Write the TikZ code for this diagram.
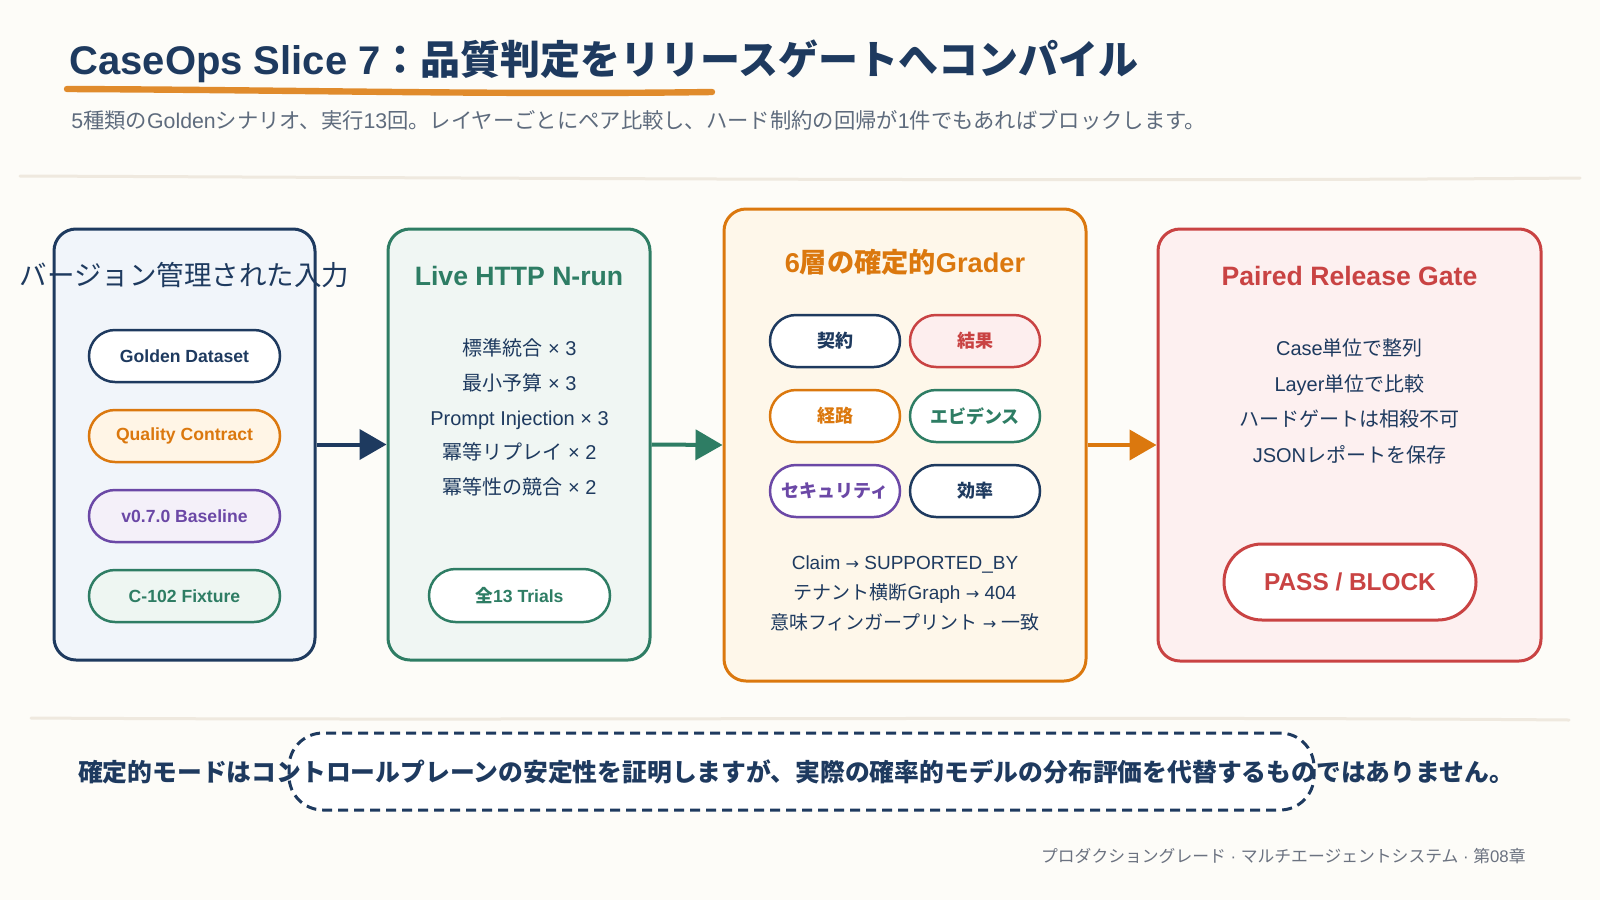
\documentclass[tikz,border=0pt]{standalone}
\usepackage{fontspec}
\setmainfont{Liberation Sans}
\newfontfamily\jpfont{Noto Sans CJK JP}
\newfontfamily\symfont{DejaVu Sans}
\usetikzlibrary{arrows.meta,shapes.misc}
\newcommand\jp[1]{{\jpfont #1}}
\newcommand\rarr{{\symfont\fontsize{0.85em}{1em}\selectfont →}}
\definecolor{bg}{HTML}{FDFCF8}
\definecolor{navy}{HTML}{1E3A5F}
\definecolor{orangeC}{HTML}{DB780E}
\definecolor{ulineC}{HTML}{E08B2C}
\definecolor{greenC}{HTML}{2E7D64}
\definecolor{purpleC}{HTML}{6B48A6}
\definecolor{redC}{HTML}{C94343}
\definecolor{grayA}{HTML}{5E6B7D}
\definecolor{grayB}{HTML}{6B7280}
\definecolor{sepC}{HTML}{EFE9DF}
\definecolor{fillA}{HTML}{F1F5FA}
\definecolor{fillB}{HTML}{F0F6F3}
\definecolor{fillC}{HTML}{FEF7EA}
\definecolor{fillD}{HTML}{FDF0F0}
\definecolor{pillO}{HTML}{FFF5E6}
\definecolor{pillP}{HTML}{F4F0F9}
\definecolor{pillG}{HTML}{EEF6F2}
\definecolor{pillR}{HTML}{FDEEEE}
\begin{document}
\begin{tikzpicture}[x=0.5pt,y=-0.5pt,
  panel/.style={rectangle, rounded corners=11pt, line width=1.5pt, inner sep=0pt},
  ttl/.style={inner sep=0pt, font=\bfseries\fontsize{13.3pt}{16pt}\selectfont},
  pill/.style={rounded rectangle, line width=1.25pt, minimum height=26pt, inner sep=0pt, fill=white, font=\bfseries\fontsize{8.8pt}{10pt}\selectfont},
  jpill/.style={pill, minimum width=65pt, font=\bfseries\fontsize{9pt}{10pt}\selectfont\jpfont},
  body/.style={inner sep=0pt, align=center, text=navy},
  flow/.style={line width=2pt, -{Triangle[length=13.5pt,width=15pt]}},
  sepline/.style={draw=sepC, line width=1.5pt, line cap=round},
  uline/.style={draw=ulineC, line width=3.2pt, line cap=round}]
\useasboundingbox[fill=bg] (0,0) rectangle (1600,900);

% title
\node[anchor=base west, inner sep=0pt, text=navy, font=\bfseries\fontsize{20pt}{24pt}\selectfont] (title) at (69,74) {CaseOps Slice 7\jp{：品質判定をリリースゲートへコンパイル}};
\draw[uline] (67,89) .. controls (300,90) and (500,95) .. (712,92);
\node[anchor=west, inner sep=0pt, text=grayA, font=\fontsize{10.65pt}{12pt}\selectfont] (sub) at (71,120) {5\jp{種類の}Golden\jp{シナリオ、実行}13\jp{回。レイヤーごとにペア比較し、ハード制約の回帰が}1\jp{件でもあればブロックします。}};
\draw[sepline] (20,176) .. controls (500,178) and (1100,182) .. (1580,178);

% panels
\node[panel, draw=navy, fill=fillA, minimum width=130.5pt, minimum height=215.5pt] (b1) at (184.5,444.5) {};
\node[panel, draw=greenC, fill=fillB, minimum width=131pt, minimum height=215.5pt] (b2) at (519,444.5) {};
\node[panel, draw=orangeC, fill=fillC, minimum width=181pt, minimum height=236pt] (b3) at (905,445) {};
\node[panel, draw=redC, fill=fillD, minimum width=191.5pt, minimum height=216pt] (b4) at (1349.5,445) {};

% panel 1
\node[inner sep=0pt, text=navy, font=\fontsize{13.75pt}{16pt}\selectfont\jpfont] (t1) at (184.5,275) {バージョン管理された入力};
\node[pill, draw=navy, text=navy, minimum width=95.5pt] (p11) at (184.5,356) {Golden Dataset};
\node[pill, draw=orangeC, fill=pillO, text=orangeC, minimum width=95.5pt] (p12) at (184.5,436) {Quality Contract};
\node[pill, draw=purpleC, fill=pillP, text=purpleC, minimum width=95.5pt] (p13) at (184.5,516) {v0.7.0 Baseline};
\node[pill, draw=greenC, fill=pillG, text=greenC, minimum width=95.5pt] (p14) at (184.5,596) {C-102 Fixture};

% panel 2
\node[ttl, text=greenC] (t2) at (519,276) {Live HTTP N-run};
\node[body, font=\fontsize{10pt}{17.4pt}\selectfont] (l2) at (519.5,417.5) {\jp{標準統合} × 3\\\jp{最小予算} × 3\\Prompt Injection × 3\\\jp{冪等リプレイ} × 2\\\jp{冪等性の競合} × 2};
\node[pill, draw=greenC, text=greenC, minimum width=90.5pt, minimum height=26.5pt] (p21) at (519.5,595.5) {\jp{全}13 Trials};

% panel 3
\node[ttl, text=orangeC, font=\bfseries\fontsize{13.6pt}{16pt}\selectfont] (t3) at (905,262) {6\jp{層の確定的}Grader};
\node[jpill, draw=navy, text=navy] (g1) at (835,341) {契約};
\node[jpill, draw=redC, fill=pillR, text=redC] (g2) at (975,341) {結果};
\node[jpill, draw=orangeC, text=orangeC] (g3) at (835,416) {経路};
\node[jpill, draw=greenC, text=greenC] (g4) at (975,416) {エビデンス};
\node[jpill, draw=purpleC, text=purpleC] (g5) at (835,491) {セキュリティ};
\node[jpill, draw=navy, text=navy] (g6) at (975,491) {効率};
\node[body, font=\fontsize{9.5pt}{15pt}\selectfont] (l3) at (905,593) {Claim \rarr{} SUPPORTED\_BY\\\jp{テナント横断}Graph \rarr{} 404\\\jp{意味フィンガープリント} \rarr{} \jp{一致}};

% panel 4
\node[ttl, text=redC] (t4) at (1349.5,276) {Paired Release Gate};
\node[body, font=\fontsize{10pt}{17.8pt}\selectfont] (l4) at (1349.5,401.5) {Case\jp{単位で整列}\\Layer\jp{単位で比較}\\\jp{ハードゲートは相殺不可}\\JSON\jp{レポートを保存}};
\node[pill, draw=redC, text=redC, minimum width=126pt, minimum height=38pt, line width=1.5pt, font=\bfseries\fontsize{12.2pt}{14pt}\selectfont] (p41) at (1350,582) {PASS / BLOCK};

% connectors
\draw[flow, navy] (b1.east) -- (b2.west);
\draw[flow, greenC] (b2.east) -- (b3.west);
\draw[flow, orangeC] (b3.east) -- (b4.west);

% bottom
\draw[sepline] (31,718) .. controls (500,721) and (1100,716) .. (1569,720);
\node[draw=navy, line width=1.5pt, dash pattern=on 5pt off 3pt, fill=white, rounded corners=17pt, minimum width=512.5pt, minimum height=38.5pt, inner sep=0pt] (note) at (801.5,771.5) {};
\node[inner sep=0pt, text=navy, font=\bfseries\fontsize{12.4pt}{14pt}\selectfont\jpfont] (notetext) at (796,772) {確定的モードはコントロールプレーンの安定性を証明しますが、実際の確率的モデルの分布評価を代替するものではありません。};
\node[anchor=east, inner sep=0pt, text=grayB, font=\fontsize{8.4pt}{10pt}\selectfont] (foot) at (1526,856) {\jp{プロダクショングレード} · \jp{マルチエージェントシステム} · \jp{第}08\jp{章}};
\end{tikzpicture}
\end{document}
